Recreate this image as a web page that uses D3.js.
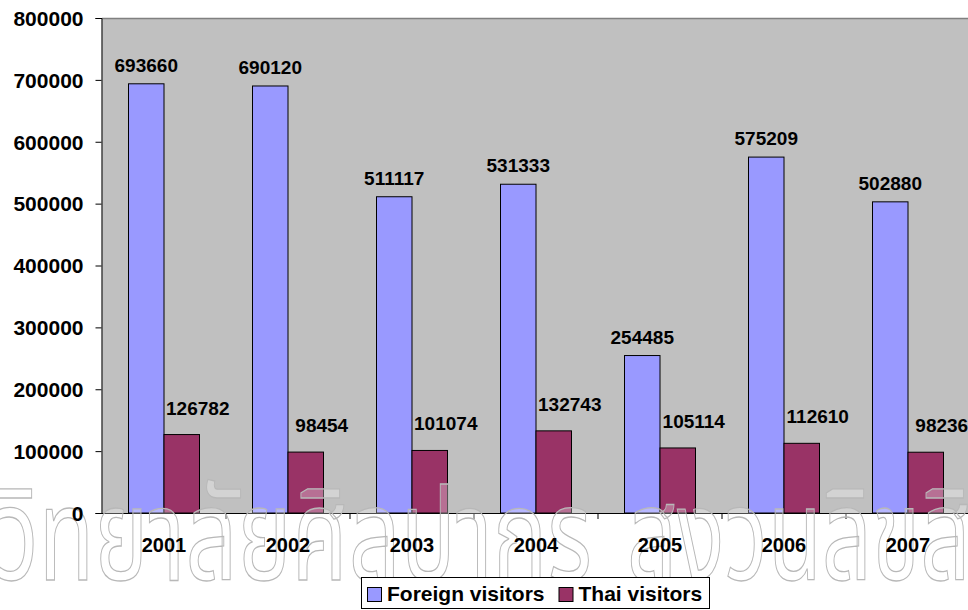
<!DOCTYPE html>
<html lang="en">
<head>
    <meta charset="UTF-8">
    <title>Visitors</title>
    <script src="https://cdn.jsdelivr.net/npm/d3@7"></script>
    <style>
        body { margin: 0; background: #fff; }
        text { font-family: "Liberation Sans", Arial, sans-serif; font-weight: bold; fill: #000; }
        .watermark text { font-family: "Noto Sans Thai", "Loma", "Garuda", "Norasi", sans-serif; font-weight: normal;
            fill: #fff; fill-opacity: 0.3; stroke: #b8b8b8; stroke-width: 1.3; }
    </style>
</head>
<body>
<script>
    // data
    const years = ["2001", "2002", "2003", "2004", "2005", "2006", "2007"]
    const foreignVisitors = [693660, 690120, 511117, 531333, 254485, 575209, 502880]
    const thaiVisitors = [126782, 98454, 101074, 132743, 105114, 112610, 98236]
    const seriesNames = ["Foreign visitors", "Thai visitors"]
    const seriesColors = ["#9999ff", "#993366"]
    const yTicks = [0, 100000, 200000, 300000, 400000, 500000, 600000, 700000, 800000]

    const width = 968, height = 610
    const plot = {left: 102, right: 970, top: 18, bottom: 513}

    const svg = d3.select("body").append("svg").attr("width", width).attr("height", height)

    const x = d3.scaleBand().domain(years).range([plot.left, plot.right])
    const xSeries = d3.scaleBand().domain(seriesNames).range([26.5, 97.5])
    const y = d3.scaleLinear().domain([0, 800000]).range([plot.bottom, plot.top])

    const rows = years.map((yr, i) => ({year: yr, values: [foreignVisitors[i], thaiVisitors[i]]}))

    // plot area
    svg.append("rect")
        .attr("x", plot.left - 0.5).attr("y", plot.top)
        .attr("width", width - plot.left + 10).attr("height", plot.bottom - plot.top)
        .attr("fill", "#c0c0c0")
    svg.append("line")
        .attr("x1", plot.left).attr("x2", width)
        .attr("y1", plot.top + 0.5).attr("y2", plot.top + 0.5)
        .attr("stroke", "#808080").attr("stroke-width", 1.5)

    // bars
    const groups = svg.append("g").selectAll("g").data(rows).join("g")
        .attr("transform", d => `translate(${x(d.year)},0)`)

    groups.selectAll("rect")
        .data(d => d.values.map((v, j) => ({name: seriesNames[j], value: v, color: seriesColors[j]})))
        .join("rect")
        .attr("x", d => xSeries(d.name))
        .attr("width", xSeries.bandwidth())
        .attr("y", d => y(d.value))
        .attr("height", d => y(0) - y(d.value))
        .attr("fill", d => d.color)
        .attr("stroke", "#000").attr("stroke-width", 1)

    // axis lines
    svg.append("line")
        .attr("x1", plot.left - 1).attr("x2", width)
        .attr("y1", plot.bottom + 0.5).attr("y2", plot.bottom + 0.5)
        .attr("stroke", "#000")
    svg.append("g").selectAll("line").data(years).join("line")
        .attr("x1", d => x(d) + x.bandwidth()).attr("x2", d => x(d) + x.bandwidth())
        .attr("y1", plot.bottom).attr("y2", plot.bottom + 6)
        .attr("stroke", "#000")

    // watermark
    const wm = svg.append("g").attr("class", "watermark")
    wm.append("text")
        .attr("x", -6).attr("y", 580)
        .attr("font-size", 128)
        .attr("textLength", 598).attr("lengthAdjust", "spacingAndGlyphs")
        .text("วิทยาลัยศิลปากร")
    wm.append("text")
        .attr("x", 627).attr("y", 580)
        .attr("font-size", 128)
        .attr("textLength", 445).attr("lengthAdjust", "spacingAndGlyphs")
        .text("สงวนลิขสิทธิ์")

    // value labels
    groups.selectAll("text.val")
        .data(d => d.values.map((v, j) => ({name: seriesNames[j], value: v, j: j})))
        .join("text")
        .attr("class", "val")
        .attr("text-anchor", "middle")
        .attr("font-size", 19)
        .attr("x", d => xSeries(d.name) + xSeries.bandwidth() / 2 + (d.j === 1 ? 16 : 0))
        .attr("y", d => y(d.value) - (d.j === 1 ? 20 : 12))
        .text(d => d.value)

    // y axis
    const yAxis = svg.append("g")
        .attr("transform", `translate(${plot.left - 0.5},0)`)
        .call(d3.axisLeft(y).tickValues(yTicks).tickSize(6).tickPadding(12).tickFormat(d3.format("d")))
    yAxis.select(".domain").attr("stroke", "#000")
    yAxis.selectAll(".tick text").attr("font-size", 21).attr("font-family", null).attr("dy", "0.35em")

    // x axis labels
    const xAxis = svg.append("g")
        .attr("transform", `translate(0,${plot.bottom})`)
        .call(d3.axisBottom(x).tickSize(0).tickPadding(25))
    xAxis.select(".domain").remove()
    xAxis.selectAll(".tick text").attr("font-size", 20).attr("font-family", null)

    // legend
    const legend = svg.append("g")
    legend.append("rect")
        .attr("x", 361.5).attr("y", 577.5).attr("width", 348).attr("height", 31)
        .attr("fill", "#fff").attr("stroke", "#000")
    const items = legend.selectAll("g").data(seriesNames).join("g")
        .attr("transform", (d, i) => `translate(${[367, 558.5][i]},0)`)
    items.append("rect")
        .attr("x", 0.5).attr("y", 587.5).attr("width", 14).attr("height", 14)
        .attr("fill", (d, i) => seriesColors[i]).attr("stroke", "#000")
    items.append("text")
        .attr("x", 20).attr("y", 601)
        .attr("font-size", 21)
        .text(d => d)
</script>
</body>
</html>
